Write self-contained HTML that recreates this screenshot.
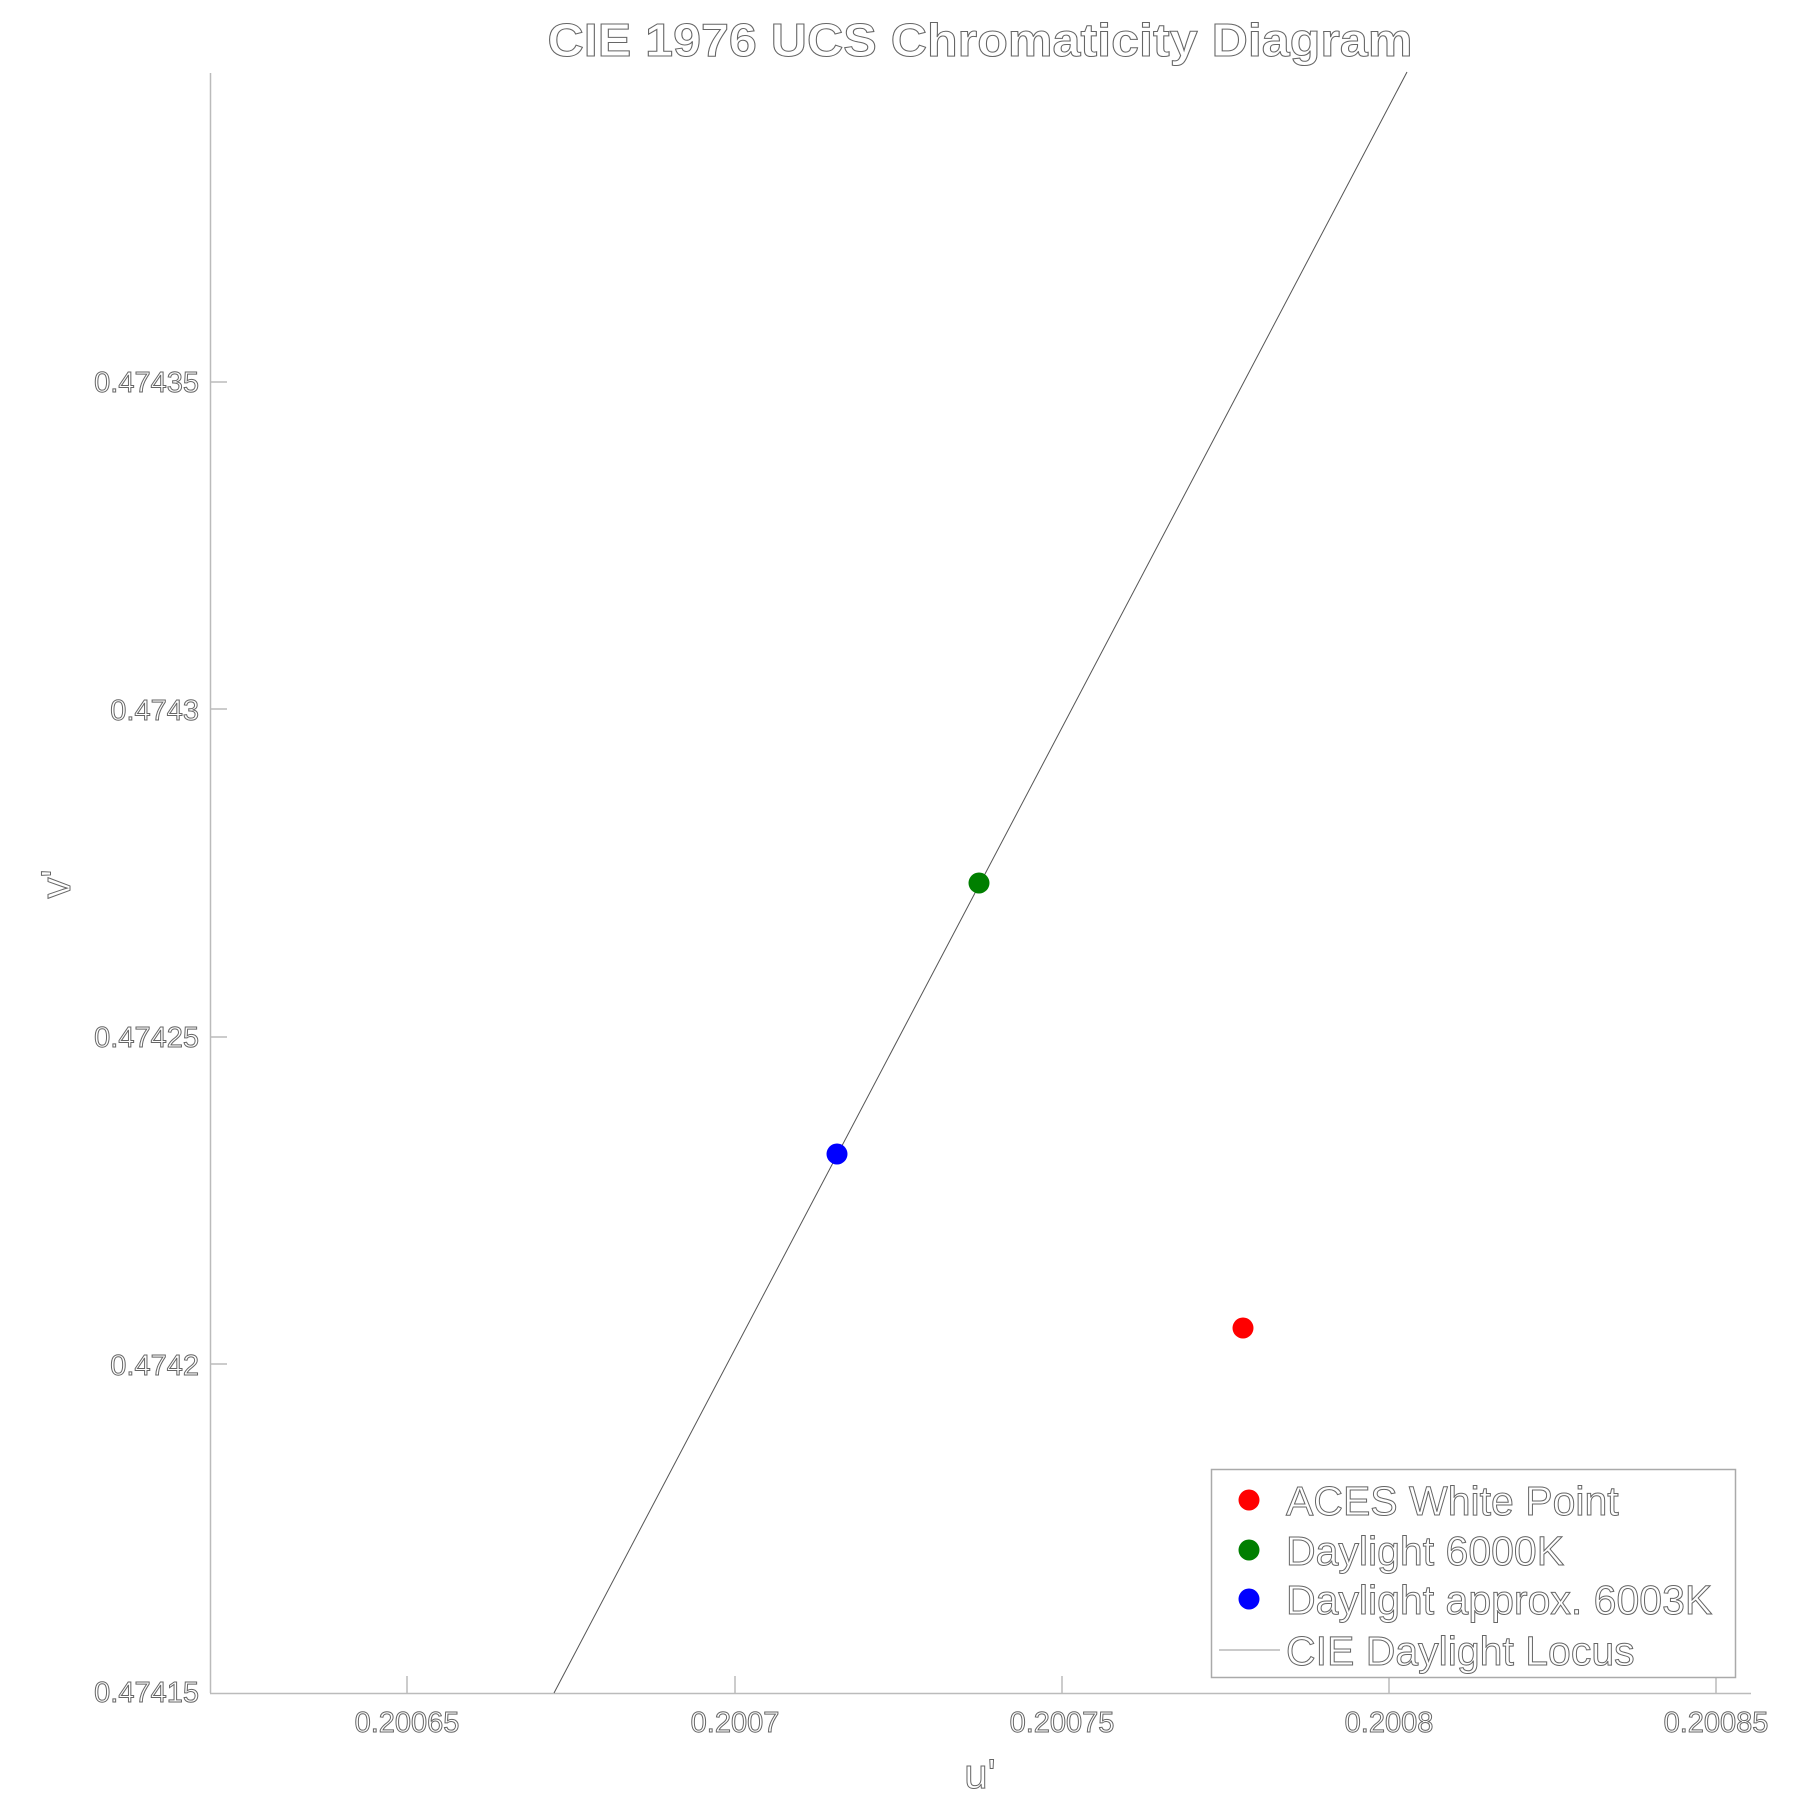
<!DOCTYPE html>
<html><head><meta charset="utf-8"><style>
html,body{margin:0;padding:0;background:#fff;}
svg{display:block;}
text{font-family:"Liberation Sans",Arial,sans-serif;fill:#fff;stroke:#666;stroke-width:1;}
</style></head><body>
<svg width="1800" height="1800" viewBox="0 0 1800 1800" xmlns="http://www.w3.org/2000/svg">
<rect width="1800" height="1800" fill="#fff"/>
<text x="980" y="56" font-size="46" font-weight="bold" text-anchor="middle" textLength="865" lengthAdjust="spacingAndGlyphs" stroke="#777">CIE 1976 UCS Chromaticity Diagram</text>
<line x1="210.5" y1="73" x2="210.5" y2="1693" stroke="#bbb" stroke-width="1.5"/>
<line x1="210" y1="1693.5" x2="1751" y2="1693.5" stroke="#bbb" stroke-width="1.5"/>
<g stroke="#bbb" stroke-width="1.5">
<line x1="210" y1="382" x2="227" y2="382"/>
<line x1="210" y1="709" x2="227" y2="709"/>
<line x1="210" y1="1037" x2="227" y2="1037"/>
<line x1="210" y1="1364" x2="227" y2="1364"/>
<line x1="407" y1="1693" x2="407" y2="1676"/>
<line x1="735" y1="1693" x2="735" y2="1676"/>
<line x1="1062" y1="1693" x2="1062" y2="1676"/>
<line x1="1389" y1="1693" x2="1389" y2="1676"/>
<line x1="1716" y1="1693" x2="1716" y2="1676"/>
</g>
<g font-size="29" text-anchor="end">
<text x="199" y="392">0.47435</text>
<text x="199" y="720">0.4743</text>
<text x="199" y="1047">0.47425</text>
<text x="199" y="1375" stroke="#aaa">0.4742</text>
<text x="199" y="1702" stroke="#ccc">0.47415</text>
</g>
<g font-size="29" text-anchor="middle">
<text x="407" y="1732" stroke="#ccc">0.20065</text>
<text x="735" y="1732">0.2007</text>
<text x="1062" y="1732">0.20075</text>
<text x="1389" y="1732">0.2008</text>
<text x="1716" y="1732">0.20085</text>
</g>
<text x="980" y="1788" font-size="42" text-anchor="middle">u'</text>
<text transform="translate(70,884) rotate(-90)" font-size="42" text-anchor="middle">v'</text>
<line x1="554" y1="1693" x2="1407" y2="72" stroke="#555" stroke-width="1"/>
<circle cx="1243" cy="1328" r="10.5" fill="#ff0000"/>
<circle cx="979" cy="883" r="10.5" fill="#007f00"/>
<circle cx="837" cy="1154" r="10.5" fill="#0000ff"/>
<rect x="1211.5" y="1469.5" width="524" height="208" fill="#fff" stroke="#aaa" stroke-width="1.5"/>
<circle cx="1249" cy="1500" r="10.5" fill="#ff0000"/>
<circle cx="1249" cy="1550" r="10.5" fill="#007f00"/>
<circle cx="1249" cy="1599" r="10.5" fill="#0000ff"/>
<line x1="1219" y1="1650" x2="1280" y2="1650" stroke="#aaa" stroke-width="1.2"/>
<g font-size="41">
<text x="1286" y="1515">ACES White Point</text>
<text x="1286" y="1565">Daylight 6000K</text>
<text x="1286" y="1614">Daylight approx. 6003K</text>
<text x="1286" y="1665">CIE Daylight Locus</text>
</g>
</svg>
</body></html>
